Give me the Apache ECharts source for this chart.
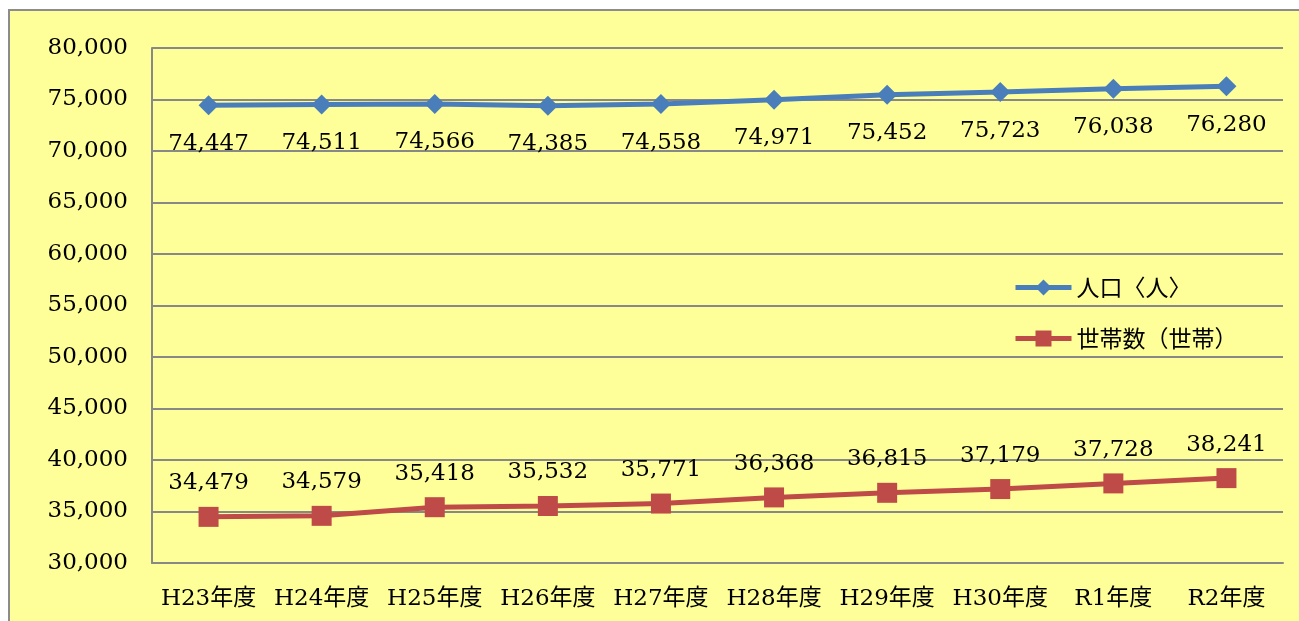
<!DOCTYPE html>
<html>
<head>
<meta charset="utf-8">
<script src="https://cdn.jsdelivr.net/npm/echarts@6/dist/echarts.min.js"></script>
<style>
  html, body { margin: 0; padding: 0; background: #fff; }
  #chart { width: 1299px; height: 621px; }
</style>
</head>
<body>
<div id="chart"></div>
<script>
// 年度
const years = ['H23年度', 'H24年度', 'H25年度', 'H26年度', 'H27年度', 'H28年度', 'H29年度', 'H30年度', 'R1年度', 'R2年度'];
// 人口（人）
const population = [74447, 74511, 74566, 74385, 74558, 74971, 75452, 75723, 76038, 76280];
// 世帯数（世帯）
const households = [34479, 34579, 35418, 35532, 35771, 36368, 36815, 37179, 37728, 38241];

const serif = '"DejaVu Serif", "Noto Sans CJK JP", serif';
const fmt = v => v.toLocaleString('en-US');

let chart = echarts.init(document.getElementById('chart'));
let option = {
  backgroundColor: '#ffffff',
  animation: false,
  graphic: [{
    type: 'rect',
    z: -10,
    shape: { x: 9, y: 10, width: 1300, height: 620 },
    style: { fill: '#FFFF99', stroke: '#8c8c8c', lineWidth: 2 }
  }],
  grid: { left: 152, right: 16, top: 48, bottom: 58 },
  legend: {
    orient: 'vertical',
    left: 1013,
    top: 276,
    padding: 0,
    itemWidth: 56,
    itemHeight: 20,
    itemGap: 28,
    lineStyle: { width: 5 },
    textStyle: { fontFamily: '"Noto Sans CJK JP", sans-serif', fontSize: 23, color: '#000' },
    data: ['人口〈人〉', '世帯数（世帯）']
  },
  xAxis: {
    type: 'category',
    data: years,
    boundaryGap: true,
    axisLine: { lineStyle: { color: '#888', width: 2 } },
    axisTick: { show: false },
    axisLabel: { fontFamily: serif, fontSize: 23, color: '#000', margin: 25, interval: 0, hideOverlap: false }
  },
  yAxis: {
    type: 'value',
    min: 30000,
    max: 80000,
    interval: 5000,
    axisLine: { show: true, lineStyle: { color: '#888', width: 2 } },
    axisTick: { show: false },
    splitLine: { lineStyle: { color: '#888', width: 2 } },
    axisLabel: { fontFamily: serif, fontSize: 23, color: '#000', margin: 24, formatter: fmt }
  },
  series: [
    {
      name: '人口〈人〉',
      type: 'line',
      data: population,
      symbol: 'diamond',
      symbolSize: 20,
      color: '#4A7EBB',
      lineStyle: { width: 5, color: '#4A7EBB' },
      itemStyle: { color: '#4A7EBB' },
      label: {
        show: true,
        position: 'bottom',
        distance: 17,
        fontFamily: serif,
        fontSize: 23,
        color: '#000',
        formatter: p => fmt(p.value)
      }
    },
    {
      name: '世帯数（世帯）',
      type: 'line',
      data: households,
      symbol: 'rect',
      symbolSize: 20,
      color: '#BE4B48',
      lineStyle: { width: 5, color: '#BE4B48' },
      itemStyle: { color: '#BE4B48' },
      label: {
        show: true,
        position: 'top',
        distance: 12,
        fontFamily: serif,
        fontSize: 23,
        color: '#000',
        formatter: p => fmt(p.value)
      }
    }
  ]
};
chart.setOption(option);
</script>
</body>
</html>
